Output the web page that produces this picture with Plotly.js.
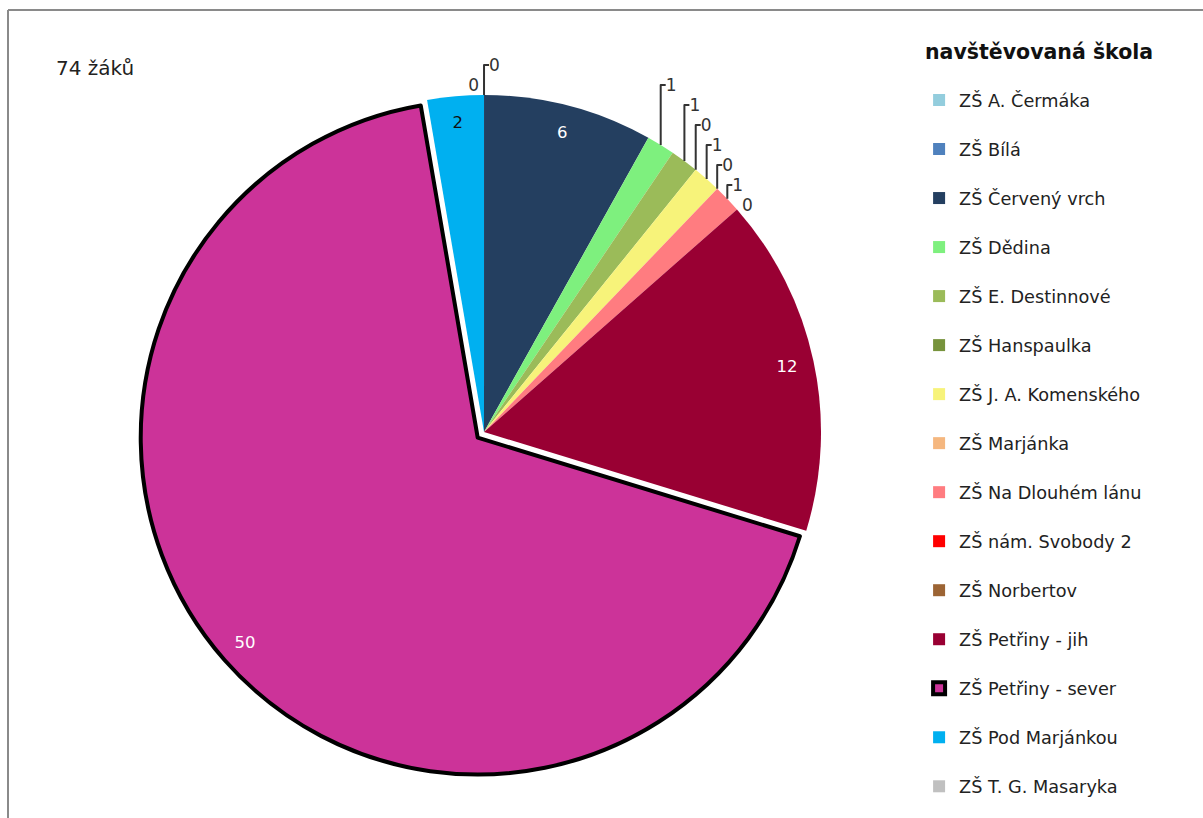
<!DOCTYPE html>
<html>
<head>
<meta charset="utf-8">
<script src="https://cdn.plot.ly/plotly-3.0.1.min.js"></script>
<style>html,body{margin:0;padding:0;background:#fff;}#chart{width:1203px;height:818px;}</style>
</head>
<body>
<div id="chart"></div>
<script>
const categories = ["ZŠ A. Čermáka","ZŠ Bílá","ZŠ Červený vrch","ZŠ Dědina","ZŠ E. Destinnové","ZŠ Hanspaulka","ZŠ J. A. Komenského","ZŠ Marjánka","ZŠ Na Dlouhém lánu","ZŠ nám. Svobody 2","ZŠ Norbertov","ZŠ Petřiny - jih","ZŠ Petřiny - sever","ZŠ Pod Marjánkou","ZŠ T. G. Masaryka"];
const pupils = [0,0,6,1,1,0,1,0,1,0,0,12,50,2,0];
const sliceColors = ["#93CDDD","#4F81BD","#243F60","#7EF07E","#9BBB59","#77933C","#F7F37A","#F5B77F","#FF7C80","#FF0000","#9C6434","#990033","#CC3399","#00B0F0","#C0C0C0"];
const unlabelled = ["ZŠ Bílá","ZŠ Norbertov"];
const totalLabel = "74 žáků";
const legendTitle = "navštěvovaná škola";

const FONT = "DejaVu Sans, sans-serif";
const n = categories.length;
const legendLabels = categories.map((c,i)=> i < n-1 ? c + "<br>\u00a0" : c);
const isBig = pupils.map(v => v >= 2);
const highlight = categories.map(c => c === "ZŠ Petřiny - sever");
const pulls = highlight.map(h => h ? 0.025 : 0);
const dom = {x: [0.1152, 0.6895], y: [0.0496, 0.8941]};

// main pie: colours, border, outside labels for the small slices
const pie = {
  type: "pie",
  labels: legendLabels,
  values: pupils,
  sort: false,
  direction: "clockwise",
  rotation: 0,
  textinfo: "value",
  textposition: categories.map((c,i) => (isBig[i] || unlabelled.includes(c)) ? "none" : "outside"),
  outsidetextfont: {family: FONT, size: 17, color: "#333"},
  marker: {
    colors: sliceColors,
    line: {color: highlight.map(h => h ? "#000000" : "rgba(0,0,0,0)"), width: highlight.map(h => h ? 4 : 0)}
  },
  pull: pulls,
  domain: dom,
  hoverinfo: "label+value",
  showlegend: true
};

// transparent ring on top carrying the inside labels near the rim
const ring = {
  type: "pie",
  labels: legendLabels,
  values: pupils,
  sort: false,
  direction: "clockwise",
  rotation: 0,
  hole: 0.84,
  textinfo: "value",
  textposition: isBig.map(b => b ? "inside" : "none"),
  insidetextorientation: "horizontal",
  textfont: {family: FONT, size: 16.5, color: pupils.map(v => v === 2 ? "#111111" : "#ffffff")},
  marker: {colors: categories.map(() => "rgba(0,0,0,0)"), line: {width: 0}},
  pull: pulls,
  domain: dom,
  hoverinfo: "skip",
  showlegend: false
};

const layout = {
  width: 1203, height: 818,
  margin: {l:0, r:0, t:0, b:0},
  paper_bgcolor: "#ffffff",
  font: {family: FONT, color: "#222"},
  showlegend: true,
  legend: {
    x: 0.7640, xanchor: "left",
    y: 1 - 82/818, yanchor: "top",
    valign: "top",
    font: {size: 17.7, color: "#222", family: FONT},
    bgcolor: "rgba(0,0,0,0)"
  },
  annotations: [
    {text: totalLabel, xref: "paper", yref: "paper", x: 54/1203, y: 1 - 68/818, xanchor: "left", yanchor: "middle", showarrow: false, font: {size: 20, color: "#222", family: FONT}},
    {text: "<b>" + legendTitle + "</b>", xref: "paper", yref: "paper", x: 923/1203, y: 1 - 52/818, xanchor: "left", yanchor: "middle", showarrow: false, font: {size: 20.5, color: "#111", family: FONT}}
  ],
  shapes: [
    {type: "line", xref: "paper", yref: "paper", x0: 8/1203, x1: 1.01, y0: 1 - 10/818, y1: 1 - 10/818, line: {color: "#8a8a8a", width: 2}},
    {type: "line", xref: "paper", yref: "paper", x0: 8/1203, x1: 8/1203, y0: 1 - 10/818, y1: -0.01, line: {color: "#8a8a8a", width: 2}}
  ]
};

Plotly.newPlot("chart", [pie, ring], layout, {displayModeBar: false, staticPlot: true});
</script>
</body>
</html>
